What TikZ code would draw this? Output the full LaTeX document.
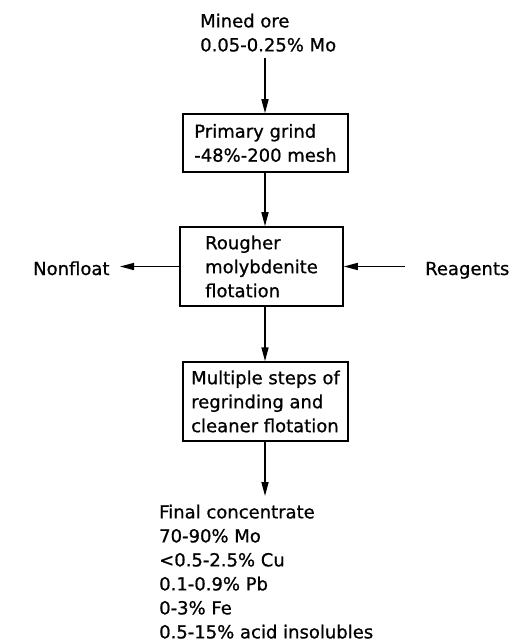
\documentclass[tikz,border=0pt]{standalone}
\usepackage{fontspec}
\setmainfont{DejaVu Sans}[FakeBold=0.8]
\usetikzlibrary{arrows.meta}
\begin{document}
\begin{tikzpicture}[x=1bp,y=-1bp,
  every node/.style={font=\fontsize{18bp}{24bp}\selectfont},
  line/.style={line width=1.5bp},
  arr/.style={line, -{Triangle[length=14bp,width=7bp]}},
  procbox/.style={draw, line width=1.5bp, align=left, inner sep=2bp},
  lbl/.style={inner sep=0pt, align=left}]
\useasboundingbox (0,0) rectangle (531,642);
\node[lbl, anchor=north west] (ore) at (200,13.5) {Mined ore\\0.05-0.25\% Mo};
\coordinate (orebot) at (265,58);
\node[procbox, minimum width=165bp, minimum height=58bp] (grind) at (265.5,143) {Primary grind\\-48\%-200 mesh};
\node[procbox, minimum width=163bp, minimum height=79bp] (rough) at (261.5,266.5) {Rougher\\molybdenite\\flotation};
\node[procbox, minimum width=165bp, minimum height=79bp] (clean) at (265.5,401.5) {Multiple steps of\\regrinding and\\cleaner flotation};
\node[lbl, anchor=base west] (nonfloat) at (33,275) {Nonfloat};
\node[lbl, anchor=base west] (reag) at (425,275) {Reagents};
\coordinate (nfend) at (120,266.5);
\coordinate (rgstart) at (405,266.5);
\coordinate (finend) at (265,496);
\node[lbl, anchor=north west] (final) at (159,504.5) {Final concentrate\\70-90\% Mo\\<0.5-2.5\% Cu\\0.1-0.9\% Pb\\0-3\% Fe\\0.5-15\% acid insolubles};
\draw[arr] (orebot) -- (orebot |- grind.north);
\draw[arr] (orebot |- grind.south) -- (orebot |- rough.north);
\draw[arr] (orebot |- rough.south) -- (orebot |- clean.north);
\draw[arr] (orebot |- clean.south) -- (finend);
\draw[arr] (rough.west) -- (nfend);
\draw[arr] (rgstart) -- (rough.east);
\end{tikzpicture}
\end{document}
